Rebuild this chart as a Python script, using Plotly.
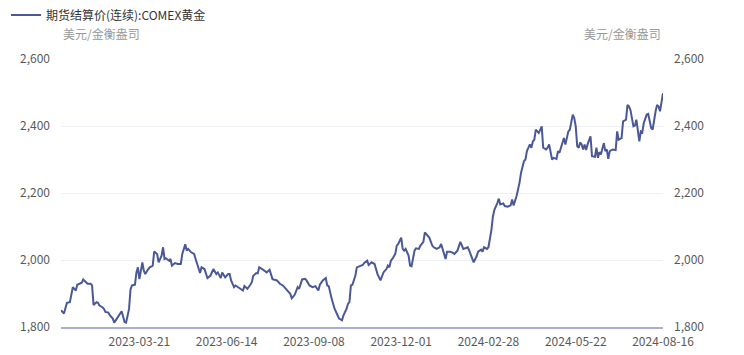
import plotly.graph_objects as go

series_name = "期货结算价(连续):COMEX黄金"
unit_label = "美元/金衡盎司"

dates_2023 = [
    "2023-01-03", "2023-01-05", "2023-01-09", "2023-01-11", "2023-01-13", "2023-01-18", "2023-01-19",
    "2023-01-24", "2023-01-25", "2023-01-27", "2023-01-30", "2023-02-01", "2023-02-02", "2023-02-03",
    "2023-02-07", "2023-02-08", "2023-02-09", "2023-02-13", "2023-02-14", "2023-02-15", "2023-02-17",
    "2023-02-21", "2023-02-23", "2023-02-24", "2023-02-28", "2023-03-02", "2023-03-03", "2023-03-07",
    "2023-03-08", "2023-03-10", "2023-03-13", "2023-03-14", "2023-03-16", "2023-03-17", "2023-03-20",
    "2023-03-21", "2023-03-22", "2023-03-23", "2023-03-24", "2023-03-27", "2023-03-29", "2023-03-30",
    "2023-04-03", "2023-04-04", "2023-04-06", "2023-04-10", "2023-04-12", "2023-04-13", "2023-04-14",
    "2023-04-17", "2023-04-19", "2023-04-20", "2023-04-21", "2023-04-25", "2023-04-27", "2023-05-01",
    "2023-05-02", "2023-05-04", "2023-05-05", "2023-05-08", "2023-05-10", "2023-05-12", "2023-05-15",
    "2023-05-17", "2023-05-18", "2023-05-19", "2023-05-23", "2023-05-25", "2023-05-30", "2023-06-01",
    "2023-06-05", "2023-06-06", "2023-06-08", "2023-06-09", "2023-06-13", "2023-06-15", "2023-06-16",
    "2023-06-20", "2023-06-22", "2023-06-23", "2023-06-28", "2023-06-30", "2023-07-03", "2023-07-06",
    "2023-07-10", "2023-07-11", "2023-07-12", "2023-07-14", "2023-07-17", "2023-07-18", "2023-07-20",
    "2023-07-24", "2023-07-25", "2023-07-27", "2023-07-31", "2023-08-03", "2023-08-07", "2023-08-09",
    "2023-08-11", "2023-08-16", "2023-08-17", "2023-08-21", "2023-08-23", "2023-08-24", "2023-08-28",
    "2023-08-30", "2023-08-31", "2023-09-05", "2023-09-07", "2023-09-11", "2023-09-13", "2023-09-14",
    "2023-09-18", "2023-09-20", "2023-09-21", "2023-09-22", "2023-09-26", "2023-09-27", "2023-09-28",
    "2023-10-02", "2023-10-03", "2023-10-05", "2023-10-06", "2023-10-10", "2023-10-11", "2023-10-12",
    "2023-10-13", "2023-10-16", "2023-10-18", "2023-10-19", "2023-10-23", "2023-10-25", "2023-10-26",
    "2023-10-30", "2023-10-31", "2023-11-02", "2023-11-06", "2023-11-07", "2023-11-08", "2023-11-10",
    "2023-11-13", "2023-11-14", "2023-11-16", "2023-11-17", "2023-11-20", "2023-11-21", "2023-11-22",
    "2023-11-27", "2023-11-28", "2023-11-29", "2023-12-01", "2023-12-04", "2023-12-05", "2023-12-06",
    "2023-12-08", "2023-12-11", "2023-12-12", "2023-12-14", "2023-12-15", "2023-12-19", "2023-12-20",
    "2023-12-22", "2023-12-26", "2023-12-28", "2023-12-29",
]
values_2023 = [
    1850, 1840, 1872, 1874, 1919, 1909, 1926,
    1932, 1942, 1934, 1929, 1929, 1924, 1866,
    1874, 1872, 1864, 1859, 1854, 1845, 1843,
    1835, 1825, 1813, 1827, 1840, 1847, 1815,
    1813, 1854, 1912, 1924, 1926, 1963, 1978,
    1943, 1975, 1993, 1968, 1958, 1973, 1978,
    1983, 2025, 2018, 1993, 2013, 2038, 2003,
    2005, 1998, 2003, 1983, 1991, 1988, 1988,
    2018, 2047, 2028, 2033, 2023, 2018, 2003,
    1975, 1961, 1978, 1973, 1946, 1953, 1973,
    1958, 1963, 1946, 1963, 1948, 1958, 1958,
    1939, 1919, 1924, 1914, 1909, 1922, 1914,
    1926, 1934, 1953, 1961, 1960, 1978, 1973,
    1968, 1963, 1971, 1943, 1939, 1929, 1924,
    1914, 1899, 1886, 1896, 1919, 1914, 1942,
    1944, 1939, 1924, 1919, 1922, 1909, 1926,
    1939, 1946, 1924, 1922, 1884, 1869, 1854,
    1835, 1825, 1820, 1835, 1854, 1869, 1874,
    1924, 1926, 1953, 1978, 1981, 1985, 1991,
    1998, 1985, 1993, 1988, 1968, 1958, 1939,
    1953, 1963, 1973, 1983, 1978, 1998, 2003,
    2018, 2043, 2048, 2067, 2033, 2028, 2033,
    2013, 1983, 1981, 2028, 2035, 2033, 2043,
    2054, 2082, 2070, 2067,
]

dates_2024 = [
    "2024-01-03", "2024-01-04", "2024-01-08", "2024-01-10", "2024-01-11", "2024-01-16", "2024-01-17",
    "2024-01-18", "2024-01-22", "2024-01-24", "2024-01-25", "2024-01-29", "2024-01-30", "2024-01-31",
    "2024-02-02", "2024-02-05", "2024-02-07", "2024-02-08", "2024-02-12", "2024-02-13", "2024-02-15",
    "2024-02-16", "2024-02-21", "2024-02-22", "2024-02-23", "2024-02-27", "2024-02-28", "2024-03-01",
    "2024-03-04", "2024-03-05", "2024-03-07", "2024-03-08", "2024-03-11", "2024-03-13", "2024-03-14",
    "2024-03-18", "2024-03-20", "2024-03-21", "2024-03-22", "2024-03-25", "2024-03-26", "2024-03-28",
    "2024-04-01", "2024-04-03", "2024-04-04", "2024-04-05", "2024-04-08", "2024-04-09", "2024-04-10",
    "2024-04-11", "2024-04-12", "2024-04-15", "2024-04-17", "2024-04-19", "2024-04-22", "2024-04-24",
    "2024-04-25", "2024-04-26", "2024-04-30", "2024-05-01", "2024-05-03", "2024-05-06", "2024-05-07",
    "2024-05-10", "2024-05-13", "2024-05-15", "2024-05-16", "2024-05-20", "2024-05-21", "2024-05-22",
    "2024-05-23", "2024-05-24", "2024-05-28", "2024-05-29", "2024-05-30", "2024-05-31", "2024-06-03",
    "2024-06-04", "2024-06-06", "2024-06-07", "2024-06-11", "2024-06-12", "2024-06-13", "2024-06-14",
    "2024-06-17", "2024-06-20", "2024-06-21", "2024-06-24", "2024-06-25", "2024-06-26", "2024-06-28",
    "2024-07-02", "2024-07-03", "2024-07-05", "2024-07-09", "2024-07-10", "2024-07-12", "2024-07-15",
    "2024-07-16", "2024-07-17", "2024-07-19", "2024-07-22", "2024-07-23", "2024-07-25", "2024-07-26",
    "2024-07-29", "2024-07-30", "2024-08-01", "2024-08-02", "2024-08-05", "2024-08-06", "2024-08-07",
    "2024-08-08", "2024-08-09", "2024-08-12", "2024-08-13", "2024-08-14", "2024-08-15", "2024-08-16",
]
values_2024 = [
    2043, 2038, 2033, 2038, 2048, 2013, 2003,
    2025, 2025, 2021, 2018, 2028, 2043, 2054,
    2033, 2035, 2038, 2028, 2008, 1993, 2011,
    2025, 2031, 2025, 2038, 2033, 2038, 2090,
    2130, 2150, 2170, 2183, 2166, 2169, 2161,
    2159, 2163, 2181, 2163, 2176, 2191, 2231,
    2260, 2295, 2300, 2325, 2335, 2345, 2335,
    2354, 2359, 2389, 2379, 2399, 2335, 2330,
    2335, 2345, 2300, 2305, 2302, 2325, 2320,
    2364, 2345, 2384, 2389, 2434, 2424, 2399,
    2340, 2335, 2351, 2345, 2330, 2345, 2328,
    2345, 2369, 2310, 2308, 2335, 2305, 2322,
    2315, 2349, 2325, 2330, 2302, 2325, 2330,
    2328, 2384, 2359, 2364, 2414, 2419, 2463,
    2458, 2448, 2399, 2401, 2419, 2354, 2384,
    2381, 2409, 2434, 2436, 2419, 2394, 2389,
    2419, 2444, 2463, 2458, 2444, 2468, 2498,
]

tick_dates = ["2023-03-21", "2023-06-14", "2023-09-08", "2023-12-01",
              "2024-02-28", "2024-05-22", "2024-08-16"]
y_ticks = [1800, 2000, 2200, 2400, 2600]
market_holidays = [
    "2023-01-16", "2023-02-20", "2023-04-07", "2023-05-29", "2023-06-19", "2023-07-04",
    "2023-09-04", "2023-11-23", "2023-12-25", "2024-01-01", "2024-01-15", "2024-02-19",
    "2024-03-29", "2024-05-27", "2024-06-19", "2024-07-04",
]

dates = dates_2023 + dates_2024
values = values_2023 + values_2024

LINE = "#4a5897"
TICK = "#595959"
FONT = "Noto Sans CJK SC, Microsoft YaHei, sans-serif"
W, H = 744, 355

fig = go.Figure()
fig.add_trace(go.Scatter(
    x=dates, y=values, mode="lines", name=series_name,
    line=dict(color=LINE, width=2),
))
fig.add_trace(go.Scatter(
    x=dates, y=values, mode="lines", yaxis="y2", showlegend=False,
    hoverinfo="skip", line=dict(color=LINE, width=0), opacity=0,
))

fig.update_layout(
    width=W, height=H,
    margin=dict(l=61, r=81, t=59, b=28, autoexpand=False),
    paper_bgcolor="white", plot_bgcolor="white",
    font=dict(family=FONT, size=12, color=TICK),
    showlegend=True,
    legend=dict(
        orientation="h", xref="container", yref="container",
        x=6 / W, y=1 - 15 / H, xanchor="left", yanchor="middle",
        font=dict(size=12, color="#333333", family=FONT),
        bgcolor="rgba(0,0,0,0)",
    ),
    xaxis=dict(
        type="date",
        range=[dates[0], dates[-1]],
        rangebreaks=[dict(bounds=["sat", "mon"]), dict(values=market_holidays)],
        tickmode="array", tickvals=tick_dates, ticktext=tick_dates,
        showgrid=False, zeroline=False,
        showline=True, linecolor="#a9afd0", linewidth=1.5,
        ticks="", ticklabelstandoff=3, tickfont=dict(size=12, color=TICK),
    ),
    yaxis=dict(
        range=[1800, 2600], tickmode="array", tickvals=y_ticks, tickformat=",",
        showgrid=True, gridcolor="#eef0f6", gridwidth=1, zeroline=False,
        showline=False, ticks="", ticklabelstandoff=10,
        tickfont=dict(size=12, color=TICK),
    ),
    yaxis2=dict(
        range=[1800, 2600], tickmode="array", tickvals=y_ticks, tickformat=",",
        overlaying="y", side="right", showgrid=False, zeroline=False,
        showline=False, ticks="", ticklabelstandoff=10,
        tickfont=dict(size=12, color=TICK),
    ),
    annotations=[
        dict(text=unit_label, xref="paper", yref="paper", x=0.0, y=1.097,
             xanchor="left", yanchor="middle", showarrow=False,
             font=dict(size=12, color="#999999", family=FONT)),
        dict(text=unit_label, xref="paper", yref="paper", x=1.0, y=1.097,
             xanchor="right", yanchor="middle", showarrow=False,
             font=dict(size=12, color="#999999", family=FONT)),
    ],
)

fig.write_html("out.html", config={"displayModeBar": False},
               post_script="document.body.style.margin='0';")
